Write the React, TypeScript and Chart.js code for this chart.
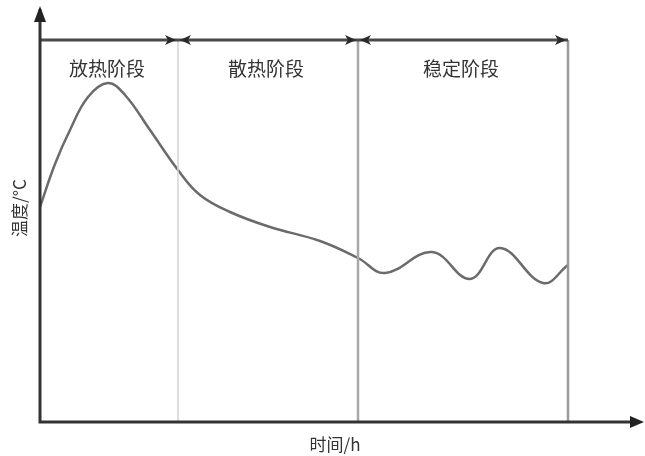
import React, { useEffect, useRef } from "react";
import { Chart, registerables } from "chart.js";

Chart.register(...registerables);

// time (arbitrary units) and temperature (arbitrary units)
const timeValues = [0, 15, 30, 48, 68, 85, 110, 138, 160, 190, 230, 280, 318, 345, 392, 430, 460, 503, 528];
const tempValues = [215, 258, 292, 325, 339, 327, 292, 252, 227, 210, 195, 181, 164, 149, 170, 143, 174, 139, 157];
const stageBounds = [0, 138, 318, 528];
const stageLabels = ["放热阶段", "散热阶段", "稳定阶段"];
const xAxisTitle = "时间/h";
const yAxisTitle = "温度/°C";

const FONT = '"Noto Sans CJK SC", "Noto Sans", sans-serif';

const decorPlugin = {
  id: "decor",
  afterDatasetsDraw(chart: any) {
    const ctx = chart.ctx as CanvasRenderingContext2D;
    const xs = chart.scales.x;
    const ys = chart.scales.y;
    const x0 = xs.getPixelForValue(stageBounds[0]);
    const y0 = ys.getPixelForValue(0);
    const topY = 40;
    ctx.save();

    // vertical stage lines
    const vColors = ["#d4d4d4", "#a8a8a8", "#9a9a9a"];
    const vWidths = [1.5, 2.5, 2.5];
    for (let i = 1; i < stageBounds.length; i++) {
      const px = xs.getPixelForValue(stageBounds[i]);
      ctx.strokeStyle = vColors[i - 1];
      ctx.lineWidth = vWidths[i - 1];
      ctx.beginPath();
      ctx.moveTo(px, topY);
      ctx.lineTo(px, y0);
      ctx.stroke();
    }

    // top bar
    const endX = xs.getPixelForValue(stageBounds[stageBounds.length - 1]);
    ctx.strokeStyle = "#4a4a4a";
    ctx.lineWidth = 3;
    ctx.beginPath();
    ctx.moveTo(x0, topY);
    ctx.lineTo(endX, topY);
    ctx.stroke();

    const arrowRight = (tipX: number, y: number) => {
      ctx.fillStyle = "#2a2a2a";
      ctx.beginPath();
      ctx.moveTo(tipX, y);
      ctx.lineTo(tipX - 11, y - 5);
      ctx.lineTo(tipX - 8, y);
      ctx.lineTo(tipX - 11, y + 5);
      ctx.closePath();
      ctx.fill();
    };
    const arrowLeft = (tipX: number, y: number) => {
      ctx.fillStyle = "#2a2a2a";
      ctx.beginPath();
      ctx.moveTo(tipX, y);
      ctx.lineTo(tipX + 11, y - 5);
      ctx.lineTo(tipX + 8, y);
      ctx.lineTo(tipX + 11, y + 5);
      ctx.closePath();
      ctx.fill();
    };
    for (let i = 1; i < stageBounds.length; i++) {
      const px = xs.getPixelForValue(stageBounds[i]);
      arrowRight(px - 2, topY);
      if (i < stageBounds.length - 1) arrowLeft(px + 2, topY);
    }

    // axes
    ctx.strokeStyle = "#333";
    ctx.lineWidth = 3;
    ctx.beginPath();
    ctx.moveTo(x0, 9);
    ctx.lineTo(x0, y0);
    ctx.lineTo(chart.width - 6, y0);
    ctx.stroke();
    ctx.fillStyle = "#222";
    // y arrow
    ctx.beginPath();
    ctx.moveTo(x0, 6);
    ctx.lineTo(x0 - 6, 22);
    ctx.lineTo(x0 + 6, 22);
    ctx.closePath();
    ctx.fill();
    // x arrow
    ctx.beginPath();
    ctx.moveTo(chart.width - 1, y0);
    ctx.lineTo(chart.width - 15, y0 - 6);
    ctx.lineTo(chart.width - 15, y0 + 6);
    ctx.closePath();
    ctx.fill();

    // stage labels
    ctx.fillStyle = "#333";
    ctx.font = `19px ${FONT}`;
    ctx.textAlign = "center";
    ctx.textBaseline = "middle";
    for (let i = 0; i < stageLabels.length; i++) {
      const a = xs.getPixelForValue(stageBounds[i]);
      const b = xs.getPixelForValue(stageBounds[i + 1]);
      ctx.fillText(stageLabels[i], (a + b) / 2 - 2, 69);
    }

    // axis titles
    ctx.font = `17px ${FONT}`;
    ctx.fillText(xAxisTitle, 335, 445);
    ctx.save();
    ctx.translate(20, 208);
    ctx.rotate(-Math.PI / 2);
    ctx.fillText(yAxisTitle, 0, 0);
    ctx.restore();

    ctx.restore();
  },
};

export default function App() {
  const ref = useRef<HTMLCanvasElement>(null);
  useEffect(() => {
    if (!ref.current) return;
    const chart = new Chart(ref.current, {
      type: "line",
      data: {
        datasets: [
          {
            data: timeValues.map((t, i) => ({ x: t, y: tempValues[i] })),
            borderColor: "#6b6b6b",
            borderWidth: 2.5,
            pointRadius: 0,
            tension: 0.4,
            fill: false,
          },
        ],
      },
      options: {
        animation: false,
        responsive: false,
        maintainAspectRatio: false,
        layout: { padding: { left: 40, right: 5, top: 10, bottom: 34 } },
        plugins: { legend: { display: false }, tooltip: { enabled: false } },
        scales: {
          x: { type: "linear", min: 0, max: 600, display: false },
          y: { type: "linear", min: 0, max: 412, display: false },
        },
      },
      plugins: [decorPlugin],
    });
    return () => chart.destroy();
  }, []);
  return (
    <div style={{ position: "fixed", left: 0, top: 0, width: 645, height: 456, background: "#fff" }}>
      <canvas ref={ref} width={645} height={456} style={{ width: 645, height: 456 }} />
    </div>
  );
}
